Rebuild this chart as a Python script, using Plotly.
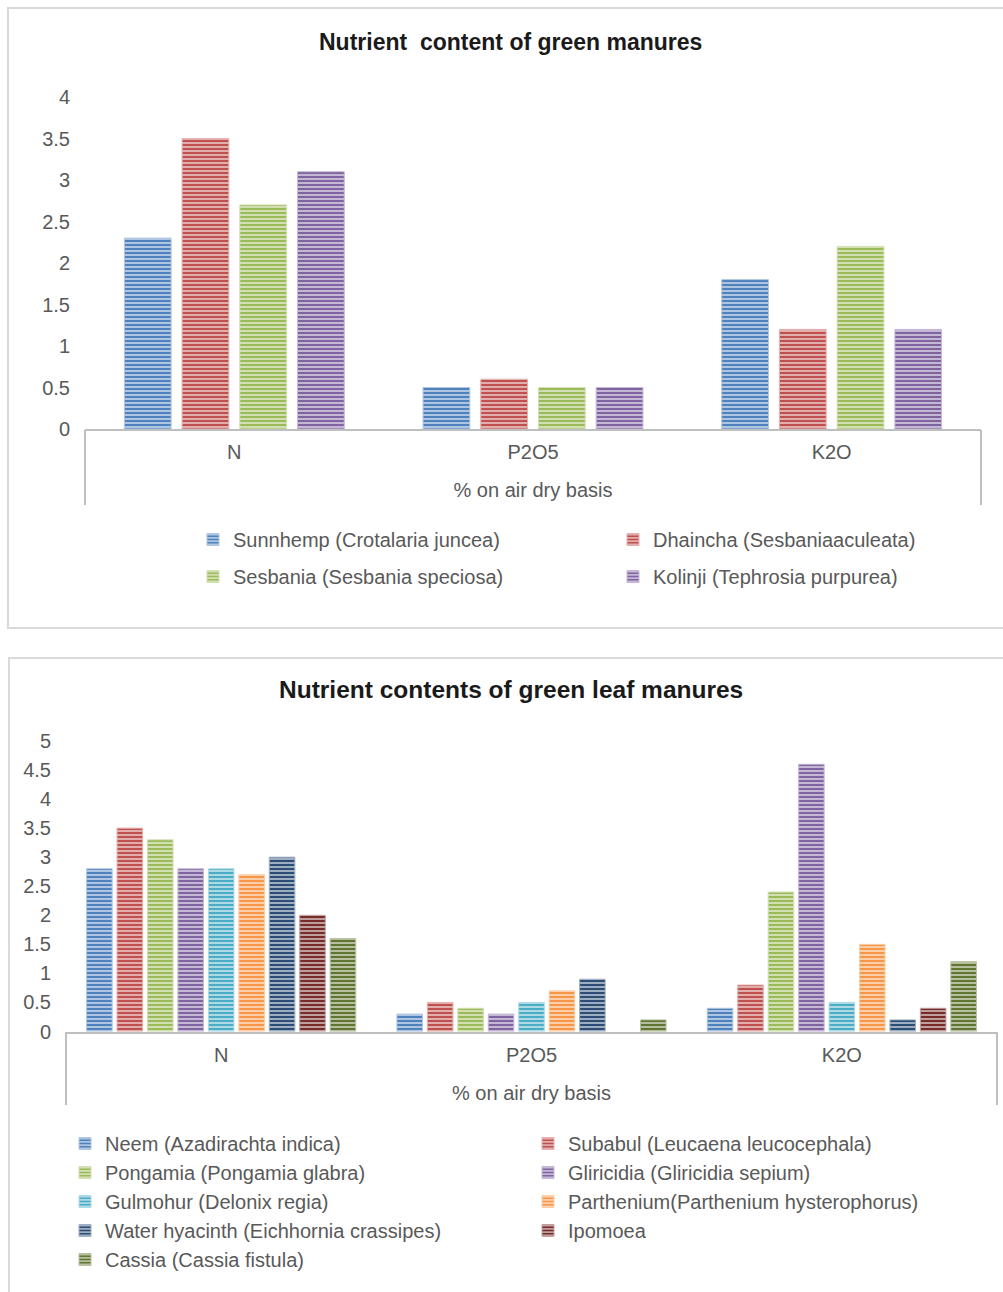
import plotly.graph_objects as go

# ---- data ----
nutrients = ["N", "P2O5", "K2O"]

green_manures = [
    "Sunnhemp (Crotalaria juncea)",
    "Dhaincha (Sesbaniaaculeata)",
    "Sesbania (Sesbania speciosa)",
    "Kolinji (Tephrosia purpurea)",
]
sunnhemp = [2.3, 0.5, 1.8]
dhaincha = [3.5, 0.6, 1.2]
sesbania = [2.7, 0.5, 2.2]
kolinji = [3.1, 0.5, 1.2]

leaf_manures = [
    "Neem (Azadirachta indica)",
    "Subabul (Leucaena leucocephala)",
    "Pongamia (Pongamia glabra)",
    "Gliricidia (Gliricidia sepium)",
    "Gulmohur (Delonix regia)",
    "Parthenium(Parthenium hysterophorus)",
    "Water hyacinth (Eichhornia crassipes)",
    "Ipomoea",
    "Cassia (Cassia fistula)",
]
neem = [2.8, 0.3, 0.4]
subabul = [3.5, 0.5, 0.8]
pongamia = [3.3, 0.4, 2.4]
gliricidia = [2.8, 0.3, 4.6]
gulmohur = [2.8, 0.5, 0.5]
parthenium = [2.7, 0.7, 1.5]
water_hyacinth = [3.0, 0.9, 0.2]
ipomoea = [2.0, None, 0.4]
cassia = [1.6, 0.2, 1.2]

top_ticks = ["0", "0.5", "1", "1.5", "2", "2.5", "3", "3.5", "4"]
bottom_ticks = ["0", "0.5", "1", "1.5", "2", "2.5", "3", "3.5", "4", "4.5", "5"]

# ---- styling ----
W, H = 1003, 1292
PALETTE = ["#4F81BD", "#C0504D", "#9BBB59", "#8064A2", "#4BACC6",
           "#F79646", "#2C4D75", "#772C2A", "#5F7530"]
FONT = "Liberation Sans, Arial, sans-serif"
GREY_TXT = "#595959"
AXIS_GREY = "#BFBFBF"
BOX_GREY = "#D9D9D9"


def px_x(p):
    return p / W


def px_y(p):
    return 1 - p / H


def tint(hex_color, amount):
    h = hex_color.lstrip("#")
    r, g, b = (int(h[i:i + 2], 16) for i in (0, 2, 4))
    r, g, b = (round(c + (255 - c) * amount) for c in (r, g, b))
    return f"rgb({r},{g},{b})"


def group_layout(n, bargap, groupgap):
    """Bar width and per-trace offsets for a clustered bar group."""
    span = 1 - bargap
    slot = span / n
    width = slot * (1 - groupgap)
    offsets = [-span / 2 + i * slot + slot * groupgap / 2 for i in range(n)]
    return width, offsets


def bar_marker(c):
    return dict(color=c, line=dict(color=tint(c, 0.55), width=1),
                pattern=dict(shape="-", size=4, solidity=0.45,
                             fgcolor=tint(c, 0.6), bgcolor=c,
                             fillmode="replace"))


fig = go.Figure()

top_series = [sunnhemp, dhaincha, sesbania, kolinji]
bottom_series = [neem, subabul, pongamia, gliricidia, gulmohur,
                 parthenium, water_hyacinth, ipomoea, cassia]

# legends are laid out as two columns; entries alternate between them
tw, toffs = group_layout(len(top_series), 0.227, 0.19)
for i, (name, vals) in enumerate(zip(green_manures, top_series)):
    fig.add_trace(go.Bar(
        x=nutrients, y=vals, name=name, xaxis="x", yaxis="y",
        width=tw, offset=toffs[i], marker=bar_marker(PALETTE[i]),
        legend="legend" if i % 2 == 0 else "legend2",
        legendgroup=f"g{i}",
    ))

bw, boffs = group_layout(len(bottom_series), 0.117, 0.16)
for i, (name, vals) in enumerate(zip(leaf_manures, bottom_series)):
    fig.add_trace(go.Bar(
        x=nutrients, y=vals, name=name, xaxis="x2", yaxis="y2",
        width=bw, offset=boffs[i], marker=bar_marker(PALETTE[i]),
        legend="legend3" if i % 2 == 0 else "legend4",
        legendgroup=f"h{i}",
    ))

axis_font = dict(family=FONT, size=20, color=GREY_TXT)
xcommon = dict(type="category", showline=True, linecolor=AXIS_GREY, linewidth=2,
               showgrid=False, zeroline=False, ticks="", tickfont=axis_font,
               ticklabelstandoff=4, automargin=False,
               title=dict(text="% on air dry basis", font=axis_font, standoff=21))
ycommon = dict(showline=False, showgrid=False, zeroline=False, ticks="",
               tickfont=axis_font, ticklabelstandoff=14, automargin=False)

legend_common = dict(orientation="v", xanchor="left", yanchor="top",
                     font=dict(family=FONT, size=20, color=GREY_TXT),
                     bgcolor="rgba(0,0,0,0)", borderwidth=0,
                     itemclick=False, itemdoubleclick=False)

layout = dict(
    width=W, height=H, margin=dict(l=0, r=0, t=0, b=0, autoexpand=False),
    paper_bgcolor="white", plot_bgcolor="white",
    barmode="group", showlegend=True,
    xaxis=dict(domain=[px_x(85), px_x(981)], anchor="y", **xcommon),
    yaxis=dict(domain=[px_y(429), px_y(97)], anchor="x", range=[0, 4],
               tickvals=[float(t) for t in top_ticks], ticktext=top_ticks, **ycommon),
    xaxis2=dict(domain=[px_x(66), px_x(997)], anchor="y2", **xcommon),
    yaxis2=dict(domain=[px_y(1031.5), px_y(741)], anchor="x2", range=[0, 5],
                tickvals=[float(t) for t in bottom_ticks], ticktext=bottom_ticks, **ycommon),
    legend=dict(x=px_x(233 - 40), y=px_y(520), tracegroupgap=8, **legend_common),
    legend2=dict(x=px_x(653 - 40), y=px_y(520), tracegroupgap=8, **legend_common),
    legend3=dict(x=px_x(105 - 40), y=px_y(1124), tracegroupgap=0, **legend_common),
    legend4=dict(x=px_x(568 - 40), y=px_y(1124), tracegroupgap=0, **legend_common),
)
fig.update_layout(**layout)

# chart titles
fig.add_annotation(text="<b>Nutrient  content of green manures</b>",
                   x=px_x(511), y=px_y(42), xref="paper", yref="paper",
                   xanchor="center", yanchor="middle", showarrow=False,
                   font=dict(family=FONT, size=23, color="#1a1a1a"))
fig.add_annotation(text="<b>Nutrient contents of green leaf manures</b>",
                   x=px_x(511), y=px_y(689), xref="paper", yref="paper",
                   xanchor="center", yanchor="middle", showarrow=False,
                   font=dict(family=FONT, size=24.5, color="#1a1a1a"))

# chart frames
fig.add_shape(type="rect", xref="paper", yref="paper",
              x0=px_x(8), x1=px_x(1012), y0=px_y(628), y1=px_y(8),
              line=dict(color=BOX_GREY, width=2), layer="below")
fig.add_shape(type="rect", xref="paper", yref="paper",
              x0=px_x(9), x1=px_x(1012), y0=px_y(1310), y1=px_y(658),
              line=dict(color=BOX_GREY, width=2), layer="below")

# side rules of the category axis block
for xr, ytop, ybot in [("x domain", 430, 505), ("x2 domain", 1032, 1105)]:
    for xv in (0, 1):
        fig.add_shape(type="line", xref=xr, yref="paper", x0=xv, x1=xv,
                      y0=px_y(ytop), y1=px_y(ybot),
                      line=dict(color=AXIS_GREY, width=2))

fig.write_html("out.html")
